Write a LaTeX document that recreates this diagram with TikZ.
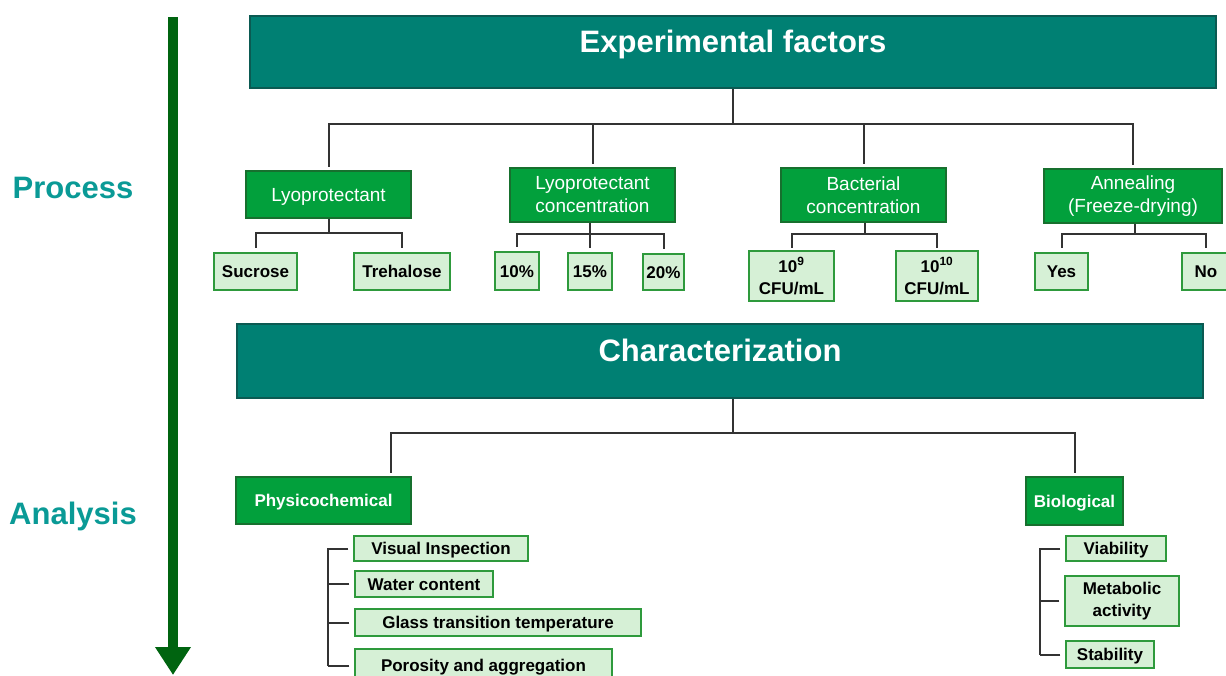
\documentclass[tikz,border=0pt]{standalone}
\usepackage{fontspec}
\setmainfont{Liberation Sans}
\usetikzlibrary{arrows.meta}
\definecolor{tealbox}{HTML}{008073}
\definecolor{tealborder}{HTML}{0B5A52}
\definecolor{greenbox}{HTML}{02A03C}
\definecolor{greenborder}{HTML}{17702E}
\definecolor{lightfill}{HTML}{D6F0D6}
\definecolor{lightborder}{HTML}{2E9A3C}
\definecolor{darkgreen}{HTML}{006410}
\definecolor{tealtext}{HTML}{0A9A96}
\definecolor{linegray}{HTML}{333333}
\tikzset{
  x=1pt, y=-1pt,
  headbox/.style={draw=tealborder, line width=1.2pt, fill=tealbox, text=white, inner sep=0pt,
     font=\fontsize{31}{36}\selectfont\bfseries},
  catbox/.style={draw=greenborder, line width=1.2pt, fill=greenbox, text=white, inner sep=0pt, align=center,
     font=\fontsize{19}{23}\selectfont},
  catone/.style={draw=greenborder, line width=1.2pt, fill=greenbox, text=white, inner sep=0pt,
     font=\fontsize{19}{23}\selectfont, text height=13.6pt, text depth=0pt},
  catbold/.style={draw=greenborder, line width=1.2pt, fill=greenbox, text=white, inner sep=0pt,
     font=\fontsize{17}{21}\selectfont\bfseries, text height=12.2pt, text depth=0pt},
  itembox/.style={draw=lightborder, line width=1.2pt, fill=lightfill, text=black, inner sep=0pt,
     font=\fontsize{17}{21}\selectfont\bfseries, text height=12.2pt, text depth=0pt},
  itemtwo/.style={draw=lightborder, line width=1.2pt, fill=lightfill, text=black, inner sep=0pt, align=center,
     font=\fontsize{17}{22}\selectfont\bfseries},
  sidelabel/.style={text=tealtext, font=\fontsize{31}{36}\selectfont\bfseries, text height=22pt, text depth=0pt},
  tree/.style={draw=linegray, line width=2pt},
}
\begin{document}
\begin{tikzpicture}
\useasboundingbox (0,0) rectangle (1226,675);

% side labels and arrow
\node[sidelabel] (proc) at (73,187) {Process};
\node[sidelabel] (anal) at (73,513) {Analysis};
\coordinate (atop) at (173,17);
\coordinate (abot) at (173,675);
\draw[darkgreen, line width=10pt, -{Triangle[width=34pt,length=28pt]}] (atop) -- (abot);

% top header
\node[headbox, minimum width=966, minimum height=72] (ef) at (733,52) {\raisebox{21pt}{Experimental factors}};

% categories
\node[catone, minimum width=165, minimum height=47] (lyo) at (328.5,194.5) {Lyoprotectant};
\node[catbox, minimum width=165, minimum height=54] (lyoc) at (592.5,195) {Lyoprotectant\\concentration};
\node[catbox, minimum width=165, minimum height=54] (bac) at (863.5,195) {Bacterial\\concentration};
\node[catbox, minimum width=178, minimum height=54] (ann) at (1133,196) {Annealing\\(Freeze-drying)};

% items
\node[itembox, minimum width=83, minimum height=37] (suc) at (255.5,271.5) {Sucrose};
\node[itembox, minimum width=96, minimum height=37] (tre) at (402,271.5) {Trehalose};
\node[itembox, minimum width=44, minimum height=38] (p10) at (517,271) {10\%};
\node[itembox, minimum width=44, minimum height=37] (p15) at (590,271.5) {15\%};
\node[itembox, minimum width=41, minimum height=36] (p20) at (663.5,272) {20\%};
\node[itemtwo, minimum width=85, minimum height=50] (c9) at (791.5,276) {10\textsuperscript{9}\\CFU/mL};
\node[itemtwo, minimum width=82, minimum height=50] (c10) at (937,276) {10\textsuperscript{10}\\CFU/mL};
\node[itembox, minimum width=53, minimum height=37] (yes) at (1061.5,271.5) {Yes};
\node[itembox, minimum width=48, minimum height=37] (no) at (1206,271.5) {No};

% tree: experimental factors
\coordinate (b1) at (733,124);
\draw[tree] (ef.south) -- (b1);
\draw[tree, shorten >=3pt] (b1) -| (lyo.north);
\draw[tree, shorten >=3pt] (b1) -| (lyoc.north);
\draw[tree, shorten >=3pt] (b1) -| (bac.north);
\draw[tree, shorten >=3pt] (b1) -| (ann.north);

\coordinate (b2) at (328.5,233);
\draw[tree] (lyo.south) -- (b2);
\draw[tree, shorten >=4pt] (b2) -| (suc.north);
\draw[tree, shorten >=4pt] (b2) -| (tre.north);

\coordinate (b3) at (590,234);
\draw[tree] (lyoc.south -| b3) -- (b3);
\draw[tree, shorten >=4pt] (b3) -| (p10.north);
\draw[tree, shorten >=4pt] (b3) -- (p15.north);
\draw[tree, shorten >=4pt] (b3) -| (p20.north);

\coordinate (b4) at (865,234);
\draw[tree] (bac.south -| b4) -- (b4);
\draw[tree, shorten >=2pt] (b4) -| (c9.north);
\draw[tree, shorten >=2pt] (b4) -| (c10.north);

\coordinate (b5) at (1135,234);
\draw[tree] (ann.south -| b5) -- (b5);
\draw[tree, shorten >=4pt] (b5) -| (yes.north);
\draw[tree, shorten >=4pt] (b5) -| (no.north);

% characterization
\node[headbox, minimum width=966, minimum height=74] (ch) at (720,361) {\raisebox{21pt}{Characterization}};
\node[catbold, minimum width=175, minimum height=47] (phy) at (323.5,500.5) {Physicochemical};
\node[catbold, minimum width=97, minimum height=48] (bio) at (1074.5,501) {Biological};

\coordinate (b6) at (733,433);
\draw[tree] (ch.south -| b6) -- (b6);
\coordinate (phytop) at (391,477);
\coordinate (biotop) at (1075,477);
\draw[tree, shorten >=4pt] (b6) -| (phytop);
\draw[tree, shorten >=4pt] (b6) -| (biotop);

% physicochemical list
\node[itembox, minimum width=174, minimum height=25] (vi) at (441,548.5) {Visual Inspection};
\node[itembox, minimum width=138, minimum height=26] (wc) at (424,584) {Water content};
\node[itembox, minimum width=286, minimum height=27] (gt) at (498,622.5) {Glass transition temperature};
\node[itembox, minimum width=257, minimum height=33] (pa) at (483.5,665.5) {Porosity and aggregation};
\coordinate (pbot) at (328,666);
\draw[tree, shorten <=5pt] (vi.west) -| (pbot);
\draw[tree, shorten <=5pt] (wc.west) -- (wc.west -| pbot);
\draw[tree, shorten <=5pt] (gt.west) -- (gt.west -| pbot);
\draw[tree, shorten <=5pt] (pa.west |- pbot) -- (pbot);

% biological list
\node[itembox, minimum width=100, minimum height=25] (via) at (1116,548.5) {Viability};
\node[itemtwo, minimum width=114, minimum height=50] (met) at (1122,601) {Metabolic\\activity};
\node[itembox, minimum width=88, minimum height=27] (sta) at (1110,654.5) {Stability};
\coordinate (bbot) at (1040,654.5);
\draw[tree, shorten <=5pt] (via.west) -| (bbot);
\draw[tree, shorten <=5pt] (met.west) -- (met.west -| bbot);
\draw[tree, shorten <=5pt] (sta.west) -- (bbot);
\end{tikzpicture}
\end{document}
